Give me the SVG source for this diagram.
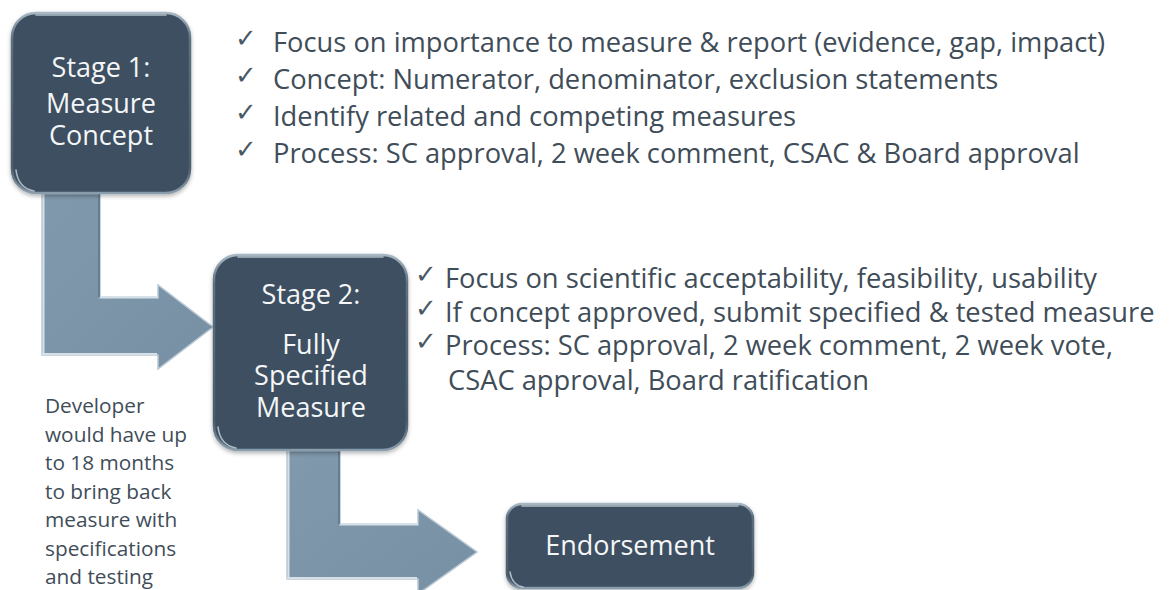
<svg xmlns="http://www.w3.org/2000/svg" width="1171" height="590" viewBox="0 0 1171 590">
  <defs>
    <linearGradient id="boxEdge" x1="0" y1="0" x2="0" y2="1">
      <stop offset="0" stop-color="#a7b7c3"/>
      <stop offset="0.15" stop-color="#5d7080"/>
      <stop offset="0.85" stop-color="#4a5d6c"/>
      <stop offset="1" stop-color="#8a9dac"/>
    </linearGradient>
    <linearGradient id="arrowFill" x1="0" y1="0" x2="1" y2="1">
      <stop offset="0" stop-color="#8199ac"/>
      <stop offset="1" stop-color="#7890a4"/>
    </linearGradient>
    <filter id="shadow" x="-10%" y="-10%" width="120%" height="125%">
      <feDropShadow dx="0" dy="2" stdDeviation="2" flood-color="#000" flood-opacity="0.3"/>
    </filter>
  </defs>
  <style>
    .box { fill: #3e5061; stroke: url(#boxEdge); stroke-width: 2.5; filter: url(#shadow); }
    .gloss { fill: none; stroke: #c9d4dc; stroke-width: 1.6; stroke-linecap: round; opacity: 0.8; }
    .label { font-family: "Open Sans", "Liberation Sans", sans-serif; font-size: 27px; fill: #f4f6f8; text-anchor: middle; }
    .arrow { fill: url(#arrowFill); stroke: #b9c8d4; stroke-width: 1.5; stroke-linejoin: miter; }
    .bevel { fill: none; stroke: #d6e0e8; stroke-width: 2; }
    .bevelDark { fill: none; stroke: #667e92; stroke-width: 2; }
    .bullet { font-family: "Open Sans", "Liberation Sans", sans-serif; font-size: 27.3px; fill: #3f4d59; }
    .tick { font-family: "DejaVu Sans", sans-serif; font-size: 26px; fill: #4a5864; }
    .note { font-family: "Open Sans", "Liberation Sans", sans-serif; font-size: 20.8px; fill: #3f4d59; }
  </style>
  <rect width="1171" height="590" fill="#ffffff"/>

  <!-- bent block arrows between the stages -->
  <g id="connectors">
    <g id="arrow-stage1-stage2">
      <polygon class="arrow" points="42,193 100,193 100,298 158,298 158,285 213,327 158,369 158,355 42,355"/>
      <polyline class="bevel" points="43.5,194 43.5,354"/>
      <polyline class="bevel" points="101.5,297 158,297"/>
      <polyline class="bevel" points="42,354 157,354"/>
      <polyline class="bevelDark" points="99,194 99,297"/>
    </g>
    <g id="arrow-stage2-endorsement">
      <polygon class="arrow" points="287,450 340,450 340,525 418,525 418,510 477,552 418,594 418,579 287,579"/>
      <polyline class="bevel" points="288.5,451 288.5,578"/>
      <polyline class="bevel" points="341.5,524 418,524"/>
      <polyline class="bevel" points="287,578 417,578"/>
      <polyline class="bevelDark" points="339,451 339,524"/>
    </g>
  </g>

  <!-- Stage 1 -->
  <g id="stage1">
    <rect class="box" x="12" y="13" width="178" height="180" rx="24" ry="24"/>
    <path class="gloss" d="M16,170 Q18,188 34,191"/>
    <path class="gloss" d="M36,15 L166,15"/>
    <text class="label" x="101" y="77">Stage 1:</text>
    <text class="label" x="101" y="113">Measure</text>
    <text class="label" x="101" y="145">Concept</text>
  </g>

  <!-- Stage 2 -->
  <g id="stage2">
    <rect class="box" x="214" y="255" width="193" height="195" rx="24" ry="24"/>
    <path class="gloss" d="M218,427 Q220,445 236,448"/>
    <path class="gloss" d="M238,257 L383,257"/>
    <text class="label" x="311" y="304">Stage 2:</text>
    <text class="label" x="311" y="354">Fully</text>
    <text class="label" x="311" y="385">Specified</text>
    <text class="label" x="311" y="417">Measure</text>
  </g>

  <!-- Endorsement -->
  <g id="endorsement">
    <rect class="box" x="507" y="504" width="246" height="84" rx="15" ry="15"/>
    <path class="gloss" d="M510,572 Q512,585 523,587"/>
    <path class="gloss" d="M522,506 L738,506"/>
    <text class="label" x="630" y="555">Endorsement</text>
  </g>

  <!-- Stage 1 checklist -->
  <g id="stage1-notes">
    <text class="tick" x="235" y="47">✓</text>
    <text class="bullet" x="273" y="52">Focus on importance to measure &amp; report (evidence, gap, impact)</text>
    <text class="tick" x="235" y="84">✓</text>
    <text class="bullet" x="273" y="89">Concept: Numerator, denominator, exclusion statements</text>
    <text class="tick" x="235" y="121">✓</text>
    <text class="bullet" x="273" y="126">Identify related and competing measures</text>
    <text class="tick" x="235" y="158">✓</text>
    <text class="bullet" x="273" y="163">Process: SC approval, 2 week comment, CSAC &amp; Board approval</text>
  </g>

  <!-- Stage 2 checklist -->
  <g id="stage2-notes">
    <text class="tick" x="415" y="283">✓</text>
    <text class="bullet" x="445" y="288">Focus on scientific acceptability, feasibility, usability</text>
    <text class="tick" x="415" y="317">✓</text>
    <text class="bullet" x="445" y="322">If concept approved, submit specified &amp; tested measure</text>
    <text class="tick" x="415" y="350">✓</text>
    <text class="bullet" x="445" y="355">Process: SC approval, 2 week comment, 2 week vote,</text>
    <text class="bullet" x="448" y="390">CSAC approval, Board ratification</text>
  </g>

  <!-- side note on the resubmission window -->
  <g id="developer-note">
    <text class="note" x="45" y="413">Developer</text>
    <text class="note" x="45" y="441.5">would have up</text>
    <text class="note" x="45" y="470">to 18 months</text>
    <text class="note" x="45" y="498.5">to bring back</text>
    <text class="note" x="45" y="527">measure with</text>
    <text class="note" x="45" y="555.5">specifications</text>
    <text class="note" x="45" y="584">and testing</text>
  </g>
</svg>
